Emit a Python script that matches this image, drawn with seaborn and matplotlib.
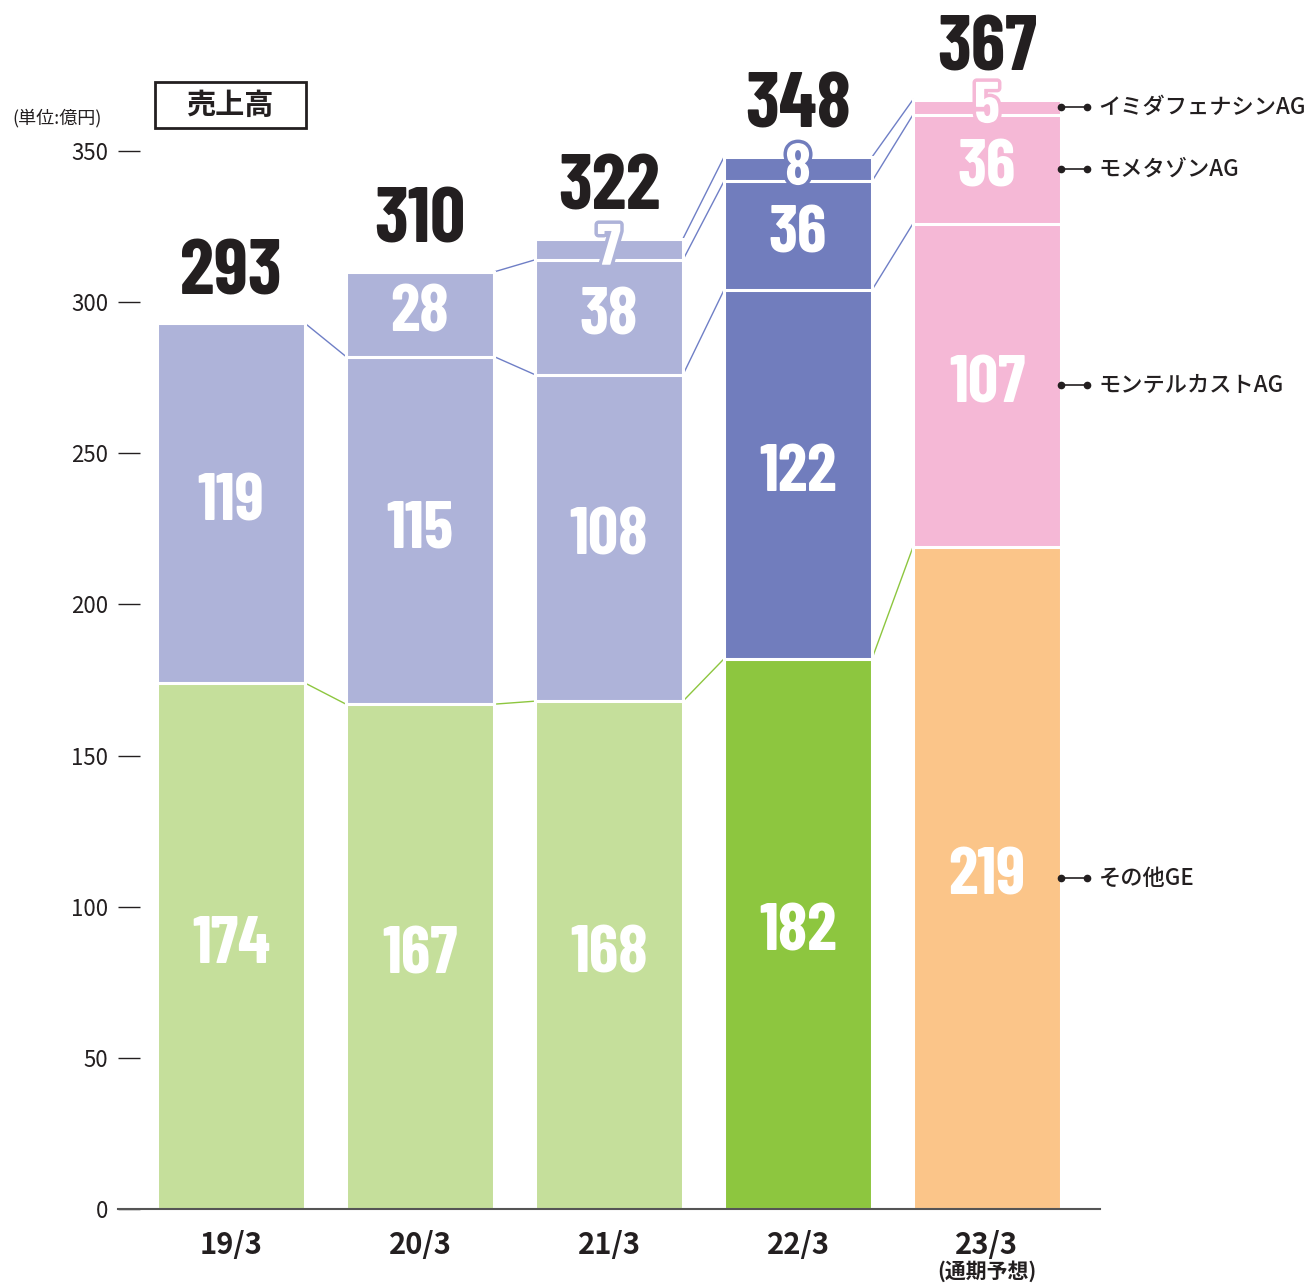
import numpy as np
import pandas as pd
import matplotlib
matplotlib.use('Agg')
import matplotlib.pyplot as plt
import matplotlib.patheffects as pe
from matplotlib.patches import Rectangle
import seaborn as sns

# data (億円)
periods = ['19/3', '20/3', '21/3', '22/3', '23/3']
other_ge = [174, 167, 168, 182, 219]
montelukast = [119, 115, 108, 122, 107]
mometasone = [0, 28, 38, 36, 36]
imidafenacin = [0, 0, 7, 8, 5]
totals = [293, 310, 322, 348, 367]
product_names = ['その他GE', 'モンテルカストAG', 'モメタゾンAG', 'イミダフェナシンAG']
y_ticks = [0, 50, 100, 150, 200, 250, 300, 350]

base_colors = ['#c5df9b', '#c5df9b', '#c5df9b', '#8dc63f', '#fbc589']
upper_colors = ['#aeb3d9', '#aeb3d9', '#aeb3d9', '#717dbd', '#f5b8d6']
text_dark = '#231f20'

sns.set_style('white')
plt.rcParams['font.family'] = ['Noto Sans CJK JP', 'DejaVu Sans']
num_font = ['Barlow Condensed', 'PT Sans Narrow', 'DejaVu Sans']

layers = np.array([other_ge, montelukast, mometasone, imidafenacin])
cum = layers.cumsum(axis=0)

W, H = 1306, 1285
fig = plt.figure(figsize=(W / 100, H / 100), dpi=100)
ymax = 385
ax_h = ymax * (1058 / 350)
ax = fig.add_axes([118 / W, 76 / H, 982 / W, ax_h / H])

bar_w = 0.783
# draw cumulative bars from the top layer down so each lower one overlays
for k in range(3, -1, -1):
    df = pd.DataFrame({'period': periods, 'value': cum[k]})
    pal = upper_colors if k > 0 else base_colors
    sns.barplot(data=df, x='period', y='value', hue='period', palette=pal,
                width=bar_w, saturation=1, edgecolor='white', linewidth=2.2,
                legend=False, ax=ax)

# connector lines between bars
for i in range(len(periods) - 1):
    for k in range(4):
        if layers[k][i] > 0 and layers[k][i + 1] > 0:
            col = '#8dc63f' if k == 0 else '#6f7fc6'
            ax.plot([i + bar_w / 2, i + 1 - bar_w / 2], [cum[k][i], cum[k][i + 1]],
                    color=col, lw=1, zorder=0.5)

# segment value labels
for i in range(len(periods)):
    for k in range(4):
        v = layers[k][i]
        if v <= 0:
            continue
        yc = cum[k][i] - v / 2
        seg_col = upper_colors[i] if k > 0 else base_colors[i]
        if v < 15:
            ax.text(i, yc, str(v), ha='center', va='center', color='white',
                    fontsize=42, fontweight='bold', family=num_font, zorder=5,
                    path_effects=[pe.withStroke(linewidth=5, foreground=seg_col)])
        else:
            ax.text(i, yc, str(v), ha='center', va='center', color='white',
                    fontsize=48, fontweight='bold', family=num_font, zorder=5)

# totals
for i, t in enumerate(totals):
    ax.annotate(str(t), xy=(i, cum[3][i]), xytext=(0, 21), textcoords='offset points',
                ha='center', va='baseline', fontsize=56, fontweight='bold',
                family=num_font, color=text_dark, annotation_clip=False)

# product labels on the right of the last bar
last = len(periods) - 1
x0 = last + bar_w / 2
x1 = x0 + 0.14
for k, name in enumerate(product_names):
    yc = cum[k][last] - layers[k][last] / 2
    ax.plot([x0, x1], [yc, yc], color=text_dark, lw=1.2, marker='o', ms=4.5,
            clip_on=False, zorder=6)
    ax.text(x1 + 0.06, yc, name, ha='left', va='center', fontsize=16,
            color=text_dark, fontweight='medium')

ax.set_xlim(-0.598, 4.598)
ax.set_ylim(0, ymax)
ax.set_yticks(y_ticks)
ax.set_xlabel('')
ax.set_ylabel('')
ax.tick_params(axis='y', left=True, direction='in', length=16, width=1, pad=7,
               labelsize=16, colors=text_dark)
ax.tick_params(axis='x', length=0, pad=15, labelsize=21, colors=text_dark)
for lab in ax.get_xticklabels():
    lab.set_fontweight('bold')
for side in ['top', 'right', 'left']:
    ax.spines[side].set_visible(False)
ax.spines['bottom'].set_color('#555555')
ax.spines['bottom'].set_linewidth(1.5)
ax.grid(False)

ax.annotate('(通期予想)', xy=(4, 0), xycoords=('data', 'axes fraction'),
            xytext=(0, -45), textcoords='offset points', ha='center', va='center',
            fontsize=15, fontweight='bold', color=text_dark, annotation_clip=False)

fig.text(12 / W, 1 - 118 / H, '(単位:億円)', ha='left', va='center',
         fontsize=13, color=text_dark)
fig.add_artist(Rectangle((155 / W, 1 - 128 / H), 151 / W, 46 / H,
                         transform=fig.transFigure, fill=False, lw=2, ec=text_dark))
fig.text(230 / W, 1 - 105 / H, '売上高', ha='center', va='center',
         fontsize=21, fontweight='bold', color=text_dark)

fig.savefig('out.png', dpi=100)
